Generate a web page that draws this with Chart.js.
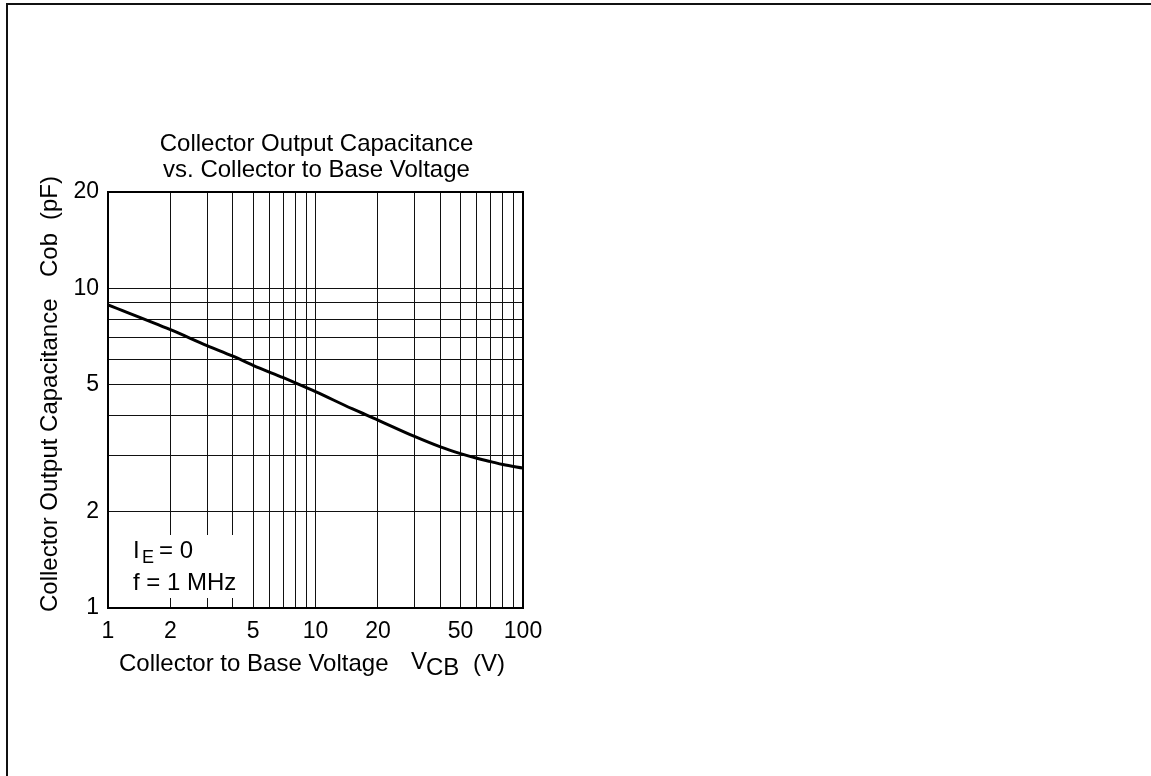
<!DOCTYPE html>
<html>
<head>
<meta charset="utf-8">
<script src="https://cdn.jsdelivr.net/npm/chart.js@4"></script>
<style>
  body { margin: 0; background: #fff; overflow: hidden; }
  #frame { position: absolute; left: 6px; top: 3px; width: 1145px; height: 773px;
           border-top: 2px solid #111; border-left: 2px solid #111; }
  #wrap { position: absolute; left: 0; top: 0; width: 1151px; height: 776px; }
</style>
</head>
<body>
<div id="frame"></div>
<div id="wrap"><canvas id="chart" width="1151" height="776"></canvas></div>
<script>
// values (V, pF)
const vcb = [1, 2, 3, 4, 5, 7, 8, 10, 15, 20, 30, 40, 50, 60, 70, 80, 100];
const cob = [8.87, 7.42, 6.62, 6.13, 5.74, 5.25, 5.06, 4.75, 4.20, 3.87, 3.44, 3.19, 3.04, 2.94, 2.87, 2.81, 2.74];

const xTicks = [1, 2, 3, 4, 5, 6, 7, 8, 9, 10, 20, 30, 40, 50, 60, 70, 80, 90, 100];
const xLabels = [1, 2, 5, 10, 20, 50, 100];
const yTicks = [1, 2, 3, 4, 5, 6, 7, 8, 9, 10, 20];
const yLabels = [1, 2, 5, 10, 20];

const FONT = "'Liberation Sans', Arial, sans-serif";
const GRID = "#111";

// draws frame, titles and the note box
const textPlugin = {
  id: "texts",
  afterDraw(chart) {
    const ctx = chart.ctx;
    const a = chart.chartArea;
    ctx.save();

    // white box behind the note
    ctx.fillStyle = "#fff";
    ctx.fillRect(a.left + 1, 535, 132, 63);

    // plot frame
    ctx.strokeStyle = "#000";
    ctx.lineWidth = 2;
    ctx.strokeRect(a.left, a.top, a.right - a.left, a.bottom - a.top);

    ctx.fillStyle = "#000";
    ctx.textBaseline = "alphabetic";

    // chart title
    ctx.font = "24px " + FONT;
    ctx.textAlign = "center";
    const cx = (a.left + a.right) / 2 + 1;
    ctx.fillText("Collector Output Capacitance", cx, 151);
    ctx.fillText("vs. Collector to Base Voltage", cx, 177);

    // x axis title
    ctx.textAlign = "left";
    ctx.fillText("Collector to Base Voltage", 119, 671);
    ctx.fillText("V", 411, 669);
    ctx.fillText("CB", 426, 675);
    ctx.fillText("(V)", 473, 671);

    // note
    ctx.fillText("I", 133, 558);
    ctx.font = "18px " + FONT;
    ctx.fillText("E", 142, 563);
    ctx.font = "24px " + FONT;
    ctx.fillText("= 0", 159, 558);
    ctx.fillText("f = 1 MHz", 133, 590);

    // y axis title
    const parts = [["Collector Output Capacitance", 612], ["Cob", 277], ["(pF)", 220]];
    parts.forEach(function (p) {
      ctx.save();
      ctx.translate(57, p[1]);
      ctx.rotate(-Math.PI / 2);
      ctx.fillText(p[0], 0, 0);
      ctx.restore();
    });

    ctx.restore();
  },
};

const ctx = document.getElementById("chart").getContext("2d");
new Chart(ctx, {
  type: "line",
  data: {
    datasets: [
      {
        data: vcb.map((v, i) => ({ x: v, y: cob[i] })),
        borderColor: "#000",
        borderWidth: 3,
        pointRadius: 0,
        fill: false,
        cubicInterpolationMode: "monotone",
      },
    ],
  },
  options: {
    responsive: false,
    animation: false,
    devicePixelRatio: 1,
    layout: { padding: { left: 0, top: 192, right: 628, bottom: 0 } },
    plugins: { legend: { display: false }, tooltip: { enabled: false } },
    scales: {
      x: {
        type: "logarithmic",
        min: 1,
        max: 100,
        afterBuildTicks: (s) => { s.ticks = xTicks.map((v) => ({ value: v })); },
        afterFit: (s) => { s.height = 168; },
        ticks: {
          autoSkip: false,
          maxRotation: 0,
          padding: 10,
          color: "#000",
          font: { family: FONT, size: 23 },
          callback: (v) => (xLabels.includes(v) ? String(v) : ""),
        },
        grid: { color: GRID, lineWidth: 1, drawTicks: false },
        border: { display: false },
      },
      y: {
        type: "logarithmic",
        min: 1,
        max: 20,
        afterBuildTicks: (s) => { s.ticks = yTicks.map((v) => ({ value: v })); },
        afterFit: (s) => { s.width = 108; },
        ticks: {
          autoSkip: false,
          padding: 9,
          color: "#000",
          font: { family: FONT, size: 23 },
          callback: (v) => (yLabels.includes(v) ? String(v) : ""),
        },
        grid: { color: GRID, lineWidth: 1, drawTicks: false },
        border: { display: false },
      },
    },
  },
  plugins: [textPlugin],
});
</script>
</body>
</html>
